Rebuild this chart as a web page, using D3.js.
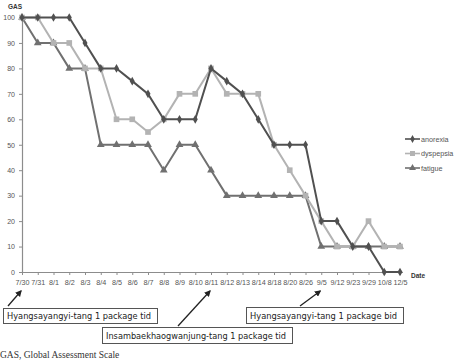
<!DOCTYPE html>
<html><head><meta charset="utf-8">
<script src="https://cdn.jsdelivr.net/npm/d3@7"></script>
<style>
html,body{margin:0;padding:0;background:#fff;overflow:hidden}
svg{display:block}
</style></head>
<body>
<svg id="chart" width="454" height="360"></svg>
<script>
const categories = ["7/30","7/31","8/1","8/2","8/3","8/4","8/5","8/6","8/7","8/8","8/9","8/10","8/11","8/12","8/13","8/14","8/18","8/20","8/26","9/5","9/12","9/23","9/29","10/8","12/5"];
const anorexia  = [100,100,100,100,90,80,80,75,70,60,60,60,80,75,70,60,50,50,50,20,20,10,10,0,0];
const dyspepsia = [100,100,90,90,80,80,60,60,55,60,70,70,80,70,70,70,50,40,30,20,10,10,20,10,10];
const fatigue   = [100,90,90,80,80,50,50,50,50,40,50,50,40,30,30,30,30,30,30,10,10,10,10,10,10];
const yTicks = [0,10,20,30,40,50,60,70,80,90,100];
const seriesNames = ["anorexia","dyspepsia","fatigue"];
const annotations = [
  {text:"Hyangsayangyi-tang 1 package tid", cat:"7/30"},
  {text:"Insambaekhaogwanjung-tang 1 package tid", cat:"8/11"},
  {text:"Hyangsayangyi-tang 1 package bid", cat:"9/5"}
];
const footnote = "GAS, Global Assessment Scale";

const series = [
  {name:seriesNames[0], values:anorexia, color:"#505050", symbol:d3.symbolDiamond, size:22},
  {name:seriesNames[1], values:dyspepsia, color:"#b3b3b3", symbol:d3.symbolSquare, size:32},
  {name:seriesNames[2], values:fatigue, color:"#707070", symbol:d3.symbolTriangle, size:26}
];

const svg = d3.select("#chart");
const x = d3.scalePoint().domain(categories).range([22, 400]);
const y = d3.scaleLinear().domain([0,100]).range([272, 17.5]);
const font = "'Liberation Sans', Arial, sans-serif";

// Y axis
const yAxis = svg.append("g").attr("transform","translate(22,0)")
  .call(d3.axisLeft(y).tickValues(yTicks).tickSize(3).tickPadding(4).tickSizeOuter(0));
yAxis.select(".domain").attr("stroke","#8c8c8c").attr("stroke-width",1.2);
yAxis.selectAll(".tick line").attr("stroke","#8c8c8c");
yAxis.selectAll("text").attr("font-family",font).attr("font-size",7).attr("fill","#555");

// X axis
const xAxis = svg.append("g").attr("transform","translate(0,272)")
  .call(d3.axisBottom(x).tickSize(3).tickPadding(5).tickSizeOuter(0));
xAxis.select(".domain").attr("stroke","#8c8c8c").attr("stroke-width",1.2).attr("d","M22,0.5H403");
xAxis.selectAll(".tick line").attr("stroke","#8c8c8c");
xAxis.selectAll("text").attr("font-family",font).attr("font-size",7.2).attr("fill","#555");

// axis titles
svg.append("text").attr("x",8).attr("y",9).text("GAS")
  .attr("font-family",font).attr("font-size",6.5).attr("font-weight","bold").attr("fill","#333");
svg.append("text").attr("x",411).attr("y",278).text("Date")
  .attr("font-family",font).attr("font-size",6.5).attr("font-weight","bold").attr("fill","#333");

// lines + markers
const line = d3.line().x((d,i)=>x(categories[i])).y(d=>y(d));
const order = [2,1,0];
order.forEach(k=>{
  const s = series[k];
  svg.append("path").datum(s.values).attr("d",line)
    .attr("fill","none").attr("stroke",s.color).attr("stroke-width",2);
  svg.append("g").selectAll("path").data(s.values).join("path")
    .attr("transform",(d,i)=>`translate(${x(categories[i])},${y(d)})`)
    .attr("d",d3.symbol().type(s.symbol).size(s.size))
    .attr("fill",s.color);
});

// legend
series.forEach((s,i)=>{
  const ly = 139 + i*14.5;
  const g = svg.append("g").attr("transform",`translate(405,${ly})`);
  g.append("line").attr("x1",0).attr("x2",15).attr("y1",0).attr("y2",0)
    .attr("stroke",s.color).attr("stroke-width",1.6);
  g.append("path").attr("transform","translate(7.5,0)")
    .attr("d",d3.symbol().type(s.symbol).size(s.size*0.8)).attr("fill",s.color);
  g.append("text").attr("x",16).attr("y",2.6).text(s.name)
    .attr("font-family",font).attr("font-size",7.2).attr("fill","#555");
});

// annotations
const boxes = [
  {x:3, y:308, w:154, h:15, ax1:8, ay1:306},
  {x:102, y:327, w:190, h:16, ax1:178, ay1:326},
  {x:246, y:307, w:157, h:16, ax1:300, ay1:306}
];
svg.append("defs").append("marker").attr("id","arr").attr("viewBox","0 0 10 10")
  .attr("refX",8).attr("refY",5).attr("markerWidth",5).attr("markerHeight",5)
  .attr("orient","auto").append("path").attr("d","M0,0L10,5L0,10z").attr("fill","#222");
annotations.forEach((a,i)=>{
  const b = boxes[i];
  const tx = x(a.cat);
  svg.append("line").attr("x1",b.ax1).attr("y1",b.ay1).attr("x2",tx-1).attr("y2",291)
    .attr("stroke","#222").attr("stroke-width",1.3).attr("marker-end","url(#arr)");
  svg.append("rect").attr("x",b.x+0.5).attr("y",b.y+0.5).attr("width",b.w).attr("height",b.h)
    .attr("fill","#fff").attr("stroke","#555").attr("stroke-width",1);
  svg.append("text").attr("x",b.x+4).attr("y",b.y+b.h/2+3.5).text(a.text)
    .attr("font-family","'DejaVu Sans', sans-serif").attr("font-size",8.8).attr("fill","#222")
    .attr("textLength",b.w-10).attr("lengthAdjust","spacingAndGlyphs");
});

svg.append("text").attr("x",0).attr("y",357.5).text(footnote)
  .attr("font-family","'Liberation Serif', serif").attr("font-size",9.5).attr("fill","#333");
</script>
</body></html>
